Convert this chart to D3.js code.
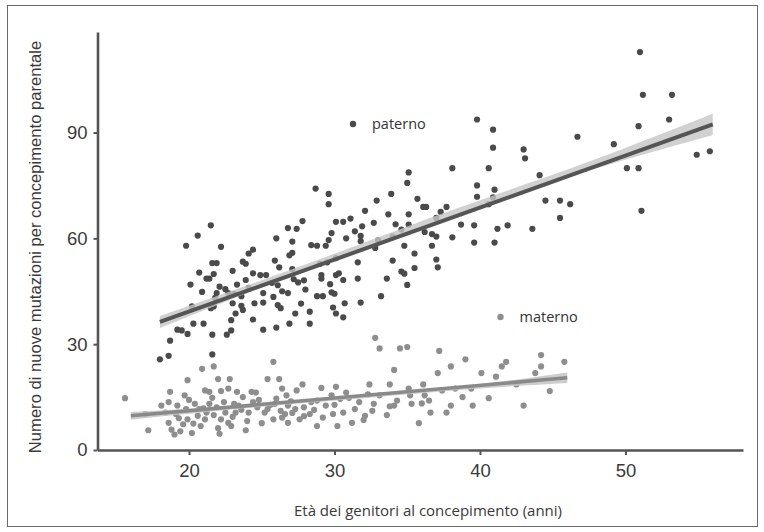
<!DOCTYPE html>
<html>
<head>
<meta charset="utf-8">
<script src="https://cdn.jsdelivr.net/npm/d3@7"></script>
<style>
  body { margin: 0; background: #fff; }
  svg { display: block; }
</style>
</head>
<body>
<svg id="chart" width="764" height="532"></svg>
<script>
// ticks
const xTicks = [20, 30, 40, 50];
const yTicks = [0, 30, 60, 90];

// [age at conception, number of new mutations]
const paterno = [
  [51.0,112.8],[51.2,100.7],[53.2,100.7],[53.0,93.7],[50.9,91.8],[49.2,86.7],[50.1,79.9],[50.9,79.9],
  [51.1,67.8],[54.9,83.7],[55.8,84.7],[46.7,88.8],[46.2,69.7],[45.5,70.7],[45.5,65.8],[44.5,70.7],
  [43.6,62.7],[44.1,77.9],[43.0,85.2],[43.1,82.7],[39.8,93.7],[40.9,90.8],[40.9,85.7],[40.6,79.9],
  [41.0,73.8],[39.8,75.0],[39.8,71.8],[40.6,69.7],[40.9,71.6],[41.2,62.7],[41.0,58.8],[41.9,63.7],
  [39.6,63.7],[39.6,58.8],[38.1,79.9],[38.7,63.9],[38.1,60.3],[37.7,68.9],[37.0,65.8],[36.7,61.2],
  [36.7,57.9],[37.0,54.0],[37.1,51.8],[36.1,68.9],[36.3,68.9],[35.7,71.2],[35.1,78.7],[35.0,75.7],
  [35.1,66.8],[35.1,63.9],[35.5,55.7],[35.5,51.6],[34.6,50.6],[34.8,50.0],[35.0,46.8],[34.8,57.9],
  [33.9,72.6],[33.7,66.8],[34.0,53.7],[33.6,48.6],[34.0,60.5],[33.2,43.6],[32.9,70.7],[32.7,64.4],
  [32.1,67.8],[31.9,63.4],[31.8,60.7],[31.4,62.0],[30.8,60.0],[31.1,65.6],[30.6,64.7],[31.8,59.2],
  [32.8,57.3],[33.0,59.4],[31.6,53.2],[31.6,48.6],[31.8,41.8],[30.6,48.2],[30.6,37.6],[30.7,41.6],
  [30.3,50.1],[30.1,64.7],[29.8,61.5],[29.6,69.7],[29.6,72.6],[28.7,74.1],[29.6,59.5],[29.4,57.9],
  [28.4,58.1],[28.8,57.9],[29.0,52.8],[29.5,53.2],[30.1,54.4],[30.1,49.6],[29.7,47.0],[29.8,44.7],
  [30.0,44.3],[29.9,40.4],[30.1,38.7],[29.2,43.6],[28.8,43.6],[29.1,48.6],[29.1,49.6],[28.3,39.2],
  [28.3,35.8],[27.9,48.1],[27.8,64.9],[27.4,62.7],[27.1,59.1],[26.8,62.9],[27.1,55.9],[26.9,55.2],
  [27.1,51.3],[27.2,48.4],[26.8,44.5],[27.3,38.7],[26.9,35.8],[26.0,60.0],[26.2,51.8],[26.1,46.7],
  [26.4,45.0],[26.1,41.1],[26.3,40.2],[25.9,53.7],[25.7,47.4],[25.8,43.4],[26.0,34.7],[25.3,49.6],
  [24.9,49.6],[25.1,44.5],[25.1,41.8],[25.1,34.1],[24.4,56.8],[24.4,50.1],[24.1,55.7],[23.7,53.4],
  [23.9,52.8],[23.9,48.2],[24.1,46.0],[24.5,41.6],[24.4,37.0],[23.6,43.6],[23.6,40.9],[23.3,46.9],
  [23.1,44.2],[23.2,38.7],[23.0,41.6],[23.0,50.8],[22.9,33.9],[22.6,32.7],[22.9,36.8],[22.7,44.5],
  [22.2,57.6],[22.1,46.3],[21.9,44.5],[21.8,43.1],[21.7,49.9],[21.6,53.0],[21.4,48.6],[21.5,40.2],
  [21.6,32.7],[21.6,27.1],[21.5,63.7],[21.9,53.0],[21.2,48.6],[20.9,44.8],[20.7,50.3],[21.0,35.8],
  [20.6,60.8],[20.1,46.9],[20.2,40.7],[19.9,32.9],[19.8,57.9],[19.5,33.9],[18.7,31.0],[18.6,26.7],
  [18.0,25.7],[19.2,34.1],[20.3,35.8],[21.7,40.7],[23.7,39.7],[22.5,45.6],[36.2,61.8],[37.0,60.5],
  [37.3,67.5],[34.2,64.0],[34.6,62.5],[28.0,45.5],[27.5,47.5],[27.7,41.5]
];

const materno = [
  [15.6,14.7],[17.2,5.6],[18.6,7.7],[18.7,16.5],[18.1,12.6],[19.1,10.2],[18.8,5.8],[19.0,4.4],
  [19.6,7.3],[19.4,5.3],[19.9,19.8],[19.8,11.6],[20.2,4.8],[19.9,8.7],[20.7,11.6],[20.8,6.8],
  [20.9,23.0],[21.1,16.9],[21.4,16.5],[21.7,23.7],[21.4,13.1],[21.7,9.9],[22.1,4.6],[22.0,20.1],
  [22.2,16.7],[22.5,10.6],[22.7,17.4],[22.8,20.1],[22.9,6.8],[23.1,13.1],[23.3,16.5],[23.9,5.6],
  [23.7,15.0],[24.1,10.6],[24.4,13.6],[24.6,16.3],[25.0,7.6],[25.4,20.1],[25.6,12.8],[25.8,25.0],
  [26.2,20.1],[26.4,17.4],[26.7,15.5],[26.8,7.7],[27.1,10.5],[27.4,16.9],[27.8,18.6],[27.9,12.1],
  [28.4,13.6],[28.8,6.8],[29.1,17.6],[30.1,17.9],[30.2,6.8],[29.9,10.2],[30.4,14.5],[30.8,16.3],
  [31.2,7.7],[31.4,11.6],[32.0,8.5],[32.1,9.7],[32.4,18.6],[32.7,13.1],[32.8,31.8],[33.1,28.8],
  [33.6,9.9],[33.8,18.6],[34.1,22.7],[34.1,12.6],[34.5,28.8],[35.0,29.2],[35.1,17.4],[35.3,13.1],
  [35.8,7.6],[36.1,18.6],[36.6,10.6],[37.1,21.8],[37.2,28.1],[37.4,16.9],[37.7,10.6],[38.0,23.7],
  [38.0,12.6],[38.3,17.4],[39.0,25.7],[39.4,17.4],[39.5,12.6],[40.1,21.8],[40.6,14.7],[41.1,20.8],
  [41.5,23.7],[41.8,25.0],[42.5,18.6],[43.0,12.6],[43.8,21.8],[44.2,26.9],[44.2,23.7],[44.8,16.7],
  [45.8,25.0],[17.0,10.2],[18.4,10.6],[18.6,13.6],[19.2,12.6],[19.7,15.5],[20.4,13.1],[20.6,9.7],
  [21.1,8.7],[21.2,10.6],[21.9,12.1],[22.2,8.7],[22.7,7.7],[23.2,10.6],[23.4,12.6],[24.3,16.5],
  [24.7,12.1],[25.2,10.6],[25.8,8.7],[25.9,13.1],[26.3,11.1],[26.4,9.2],[26.8,12.6],[27.3,11.6],
  [27.6,8.7],[28.3,10.2],[28.8,14.0],[29.4,12.6],[29.8,15.5],[30.6,10.6],[31.7,13.6],[32.6,11.1],
  [33.1,15.5],[34.3,14.0],[35.2,15.5],[36.2,15.5],[36.5,14.0],
  [19.3,9.0],[20.0,14.2],[20.3,7.5],[21.0,11.8],[21.6,14.8],[22.0,6.2],[22.4,13.6],[23.0,9.4],
  [23.6,11.4],[24.0,8.2],[24.8,14.2],[25.4,11.6],[26.0,14.6],[26.6,10.2],[27.0,13.8],[27.9,9.6],
  [28.6,11.4],[29.2,9.2],[30.0,12.8],[31.0,14.8],[32.3,15.8],[33.8,12.4],[36.0,13.2],[38.8,15.0]
];

// fitted lines and confidence bands: [age, value] / [age, low, high]
const fitPaterno = [[18, 36.3], [56, 92.3]];
const fitMaterno = [[16, 9.7], [46, 20.5]];
const bandPaterno = [[18, 34.6, 38.0], [28, 51.0, 52.6], [38, 66.2, 67.9], [47, 78.6, 81.0], [56, 89.3, 95.3]];
const bandMaterno = [[16, 8.6, 10.8], [24, 11.9, 12.7], [32, 14.7, 15.4], [40, 17.4, 18.7], [46, 19.0, 22.0]];

const svg = d3.select("#chart");

// frame round the picture
svg.append("rect")
  .attr("x", 7.5).attr("y", 5.5)
  .attr("width", 750).attr("height", 521)
  .attr("fill", "none")
  .attr("stroke", "#6a6a6a")
  .attr("stroke-width", 1);

const x = d3.scaleLinear().domain([13.71, 58.08]).range([97.5, 743]);
const y = d3.scaleLinear().domain([0, 118.5]).range([450, 32]);

const tickFont = "'Liberation Sans', Arial, sans-serif";
const textFont = "'Open Sans', 'Liberation Sans', sans-serif";

// axes
const xAxisG = svg.append("g")
  .attr("transform", `translate(0,${y(0)})`)
  .call(d3.axisBottom(x).tickValues(xTicks).tickSize(5).tickSizeOuter(0).tickPadding(9));
const yAxisG = svg.append("g")
  .attr("transform", `translate(${x.range()[0]},0)`)
  .call(d3.axisLeft(y).tickValues(yTicks).tickSize(4).tickSizeOuter(0).tickPadding(6));

[xAxisG, yAxisG].forEach(g => {
  g.select(".domain").attr("stroke", "#555").attr("stroke-width", 2.6);
  g.selectAll(".tick line").attr("stroke", "#555").attr("stroke-width", 2);
  g.selectAll(".tick text")
    .attr("fill", "#3a3a3a")
    .style("font-family", tickFont)
    .style("font-size", "18.5px");
});

// confidence bands
const area = d3.area()
  .x(d => x(d[0]))
  .y0(d => y(d[1]))
  .y1(d => y(d[2]))
  .curve(d3.curveNatural);
const line = d3.line().x(d => x(d[0])).y(d => y(d[1]));

// points
svg.append("g").selectAll("circle")
  .data(materno)
  .join("circle")
  .attr("cx", d => x(d[0]))
  .attr("cy", d => y(d[1]))
  .attr("r", 3.1)
  .attr("fill", "#8e8e8e");

svg.append("g").selectAll("circle")
  .data(paterno)
  .join("circle")
  .attr("cx", d => x(d[0]))
  .attr("cy", d => y(d[1]))
  .attr("r", 3.1)
  .attr("fill", "#4a4a4a");

svg.append("path").attr("d", area(bandMaterno)).attr("fill", "#c4c4c4").attr("opacity", 0.85);
svg.append("path").attr("d", line(fitMaterno))
  .attr("stroke", "#8a8a8a").attr("stroke-width", 3.6).attr("fill", "none");

svg.append("path").attr("d", area(bandPaterno)).attr("fill", "#c6c6c6").attr("opacity", 0.8);
svg.append("path").attr("d", line(fitPaterno))
  .attr("stroke", "#555").attr("stroke-width", 4).attr("fill", "none");

// legend labels
const legend = [
  { label: "paterno", color: "#4a4a4a", cx: 353, cy: 124 },
  { label: "materno", color: "#8e8e8e", cx: 500.5, cy: 317 }
];
const lg = svg.append("g").selectAll("g").data(legend).join("g");
lg.append("circle").attr("cx", d => d.cx).attr("cy", d => d.cy).attr("r", 3.2).attr("fill", d => d.color);
lg.append("text")
  .attr("x", d => d.cx + 19).attr("y", d => d.cy + 5)
  .attr("fill", "#333")
  .style("font-family", textFont)
  .style("font-size", "14.5px")
  .text(d => d.label);

// axis titles
svg.append("text")
  .attr("transform", "translate(41,247) rotate(-90)")
  .attr("text-anchor", "middle")
  .attr("fill", "#3a3a3a")
  .style("font-family", tickFont)
  .style("font-size", "16.6px")
  .text("Numero di nuove mutazioni per concepimento parentale");

svg.append("text")
  .attr("x", 428).attr("y", 516)
  .attr("text-anchor", "middle")
  .attr("fill", "#3a3a3a")
  .style("font-family", textFont)
  .style("font-size", "15px")
  .text("Età dei genitori al concepimento (anni)");
</script>
</body>
</html>
